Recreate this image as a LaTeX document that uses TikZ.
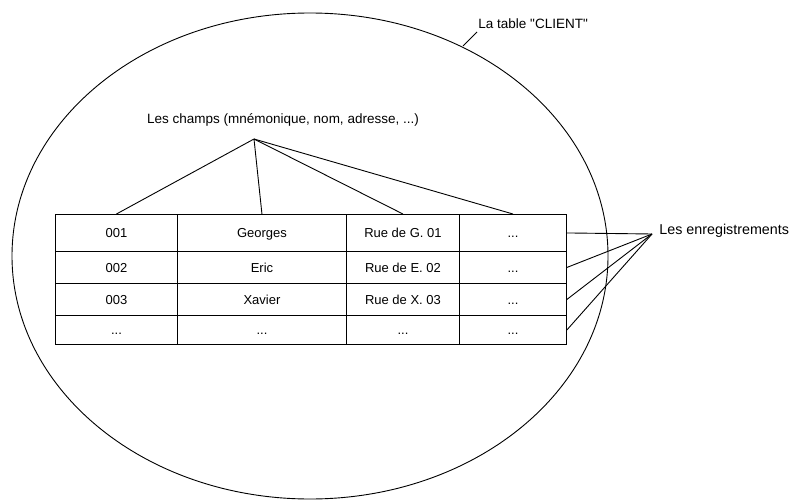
\documentclass[tikz,border=0pt]{standalone}
\usepackage{fontspec}
\setmainfont{Liberation Sans}
\newcommand\etc{...}
\tikzset{
  cell/.style={draw,inner sep=0pt,anchor=north west,text height=9.5pt,text depth=0pt,
    font=\fontsize{13}{15}\selectfont},
  note/.style={inner sep=0pt,font=\fontsize{13.5}{16}\selectfont}
}

\begin{document}
\begin{tikzpicture}[x=1pt,y=-1pt,line width=0.9pt]
   \useasboundingbox (0,0) rectangle (795,500);
   \draw (310,256) ellipse[x radius=298,y radius=243];
   % the table
   \foreach \r/\y/\h/\ta/\tb/\tc/\td in {1/214/37/001/Georges/Rue de G.~01/\etc,
       2/251/32/002/Eric/Rue de E.~02/\etc, 3/283/32/003/Xavier/Rue de X.~03/\etc,
       4/315/29/\etc/\etc/\etc/\etc}{
     \node[cell,minimum width=122pt,minimum height=\h pt] (c-\r-1) at (55,\y) {\ta};
     \node[cell,minimum width=169pt,minimum height=\h pt] (c-\r-2) at (177,\y) {\tb};
     \node[cell,minimum width=113pt,minimum height=\h pt] (c-\r-3) at (346,\y) {\tc};
     \node[cell,minimum width=107pt,minimum height=\h pt] (c-\r-4) at (459,\y) {\td};
   }
   % labels
   \node[note,anchor=west] (tname) at (478,24) {La table \textquotedbl CLIENT\textquotedbl};
   \node[note] (champs) at (283,120) {Les champs (mnémonique, nom, adresse, ...)};
   \node[note,anchor=west,font=\fontsize{14.3}{16}\selectfont] (enreg) at (659,231) {Les enregistrements};
   \coordinate (edge) at (463,46);
   \coordinate (tip) at (477,32);
   \coordinate (fchamps) at (254,139);
   \coordinate (fenreg) at (652,234);
   \draw (edge) -- (tip);
   \foreach \c in {1,...,4}
     \draw (fchamps) -- (c-1-\c.north);
   \foreach \r in {1,...,4}
     \draw (fenreg) -- (c-\r-4.east);
\end{tikzpicture}
\end{document}
